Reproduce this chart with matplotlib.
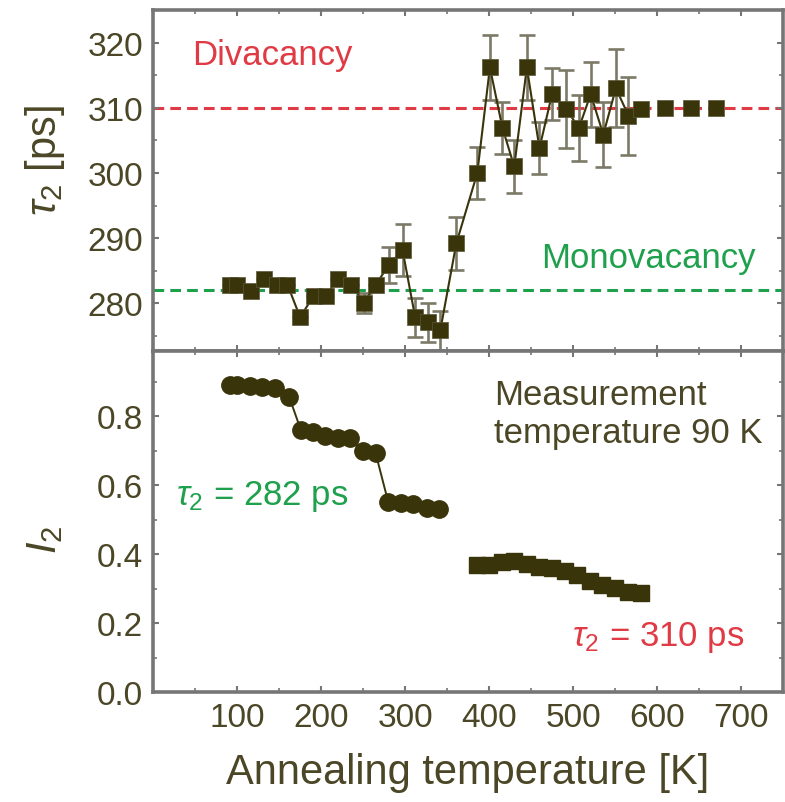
import numpy as np
import matplotlib
matplotlib.use("Agg")
import matplotlib.pyplot as plt
from matplotlib.ticker import MultipleLocator, FixedLocator, FormatStrFormatter

plt.rcParams["font.family"] = ["Liberation Sans", "DejaVu Sans"]
plt.rcParams["mathtext.fontset"] = "custom"
plt.rcParams["mathtext.it"] = "Liberation Sans:italic"
plt.rcParams["mathtext.rm"] = "Liberation Sans"

# positron lifetime tau2 vs annealing temperature
temp_tau = [92, 100, 117, 132, 147, 160, 175, 191, 206, 220, 236, 251, 265,
            281, 297, 312, 327, 342, 361, 386, 401, 416, 430, 445, 460, 475,
            492, 507, 521, 536, 551, 566, 581]
tau2 = [282.9, 282.9, 281.9, 283.8, 282.9, 282.9, 277.9, 281.1, 281.1, 283.8,
        282.9, 280.1, 282.9, 285.9, 288.2, 277.9, 277.1, 275.9, 289.2, 300.0,
        316.2, 306.9, 301.0, 316.2, 303.8, 312.1, 309.8, 306.9, 312.1, 305.9,
        313.0, 308.8, 309.8]
tau2_err = [0, 0, 0, 0, 0, 0, 0, 0, 0, 0, 0, 1.5, 0, 2.8, 4.0, 3.0, 3.0, 3.0,
            4.0, 4.0, 5.0, 4.0, 4.0, 5.0, 4.0, 4.0, 6.0, 5.0, 5.0, 5.0, 6.0,
            6.0, 0]
# fixed values
temp_fix = [610, 640, 670]
tau2_fix = [310, 310, 310]

# intensity I2
temp_i1 = [92, 100, 115, 130, 145, 162, 176, 190, 205, 220, 234, 250, 265,
           280, 295, 310, 326, 341]
i2_a = [0.89, 0.89, 0.888, 0.885, 0.882, 0.857, 0.760, 0.755, 0.742, 0.738,
        0.737, 0.700, 0.693, 0.551, 0.549, 0.545, 0.533, 0.532]
temp_i2 = [386, 400, 415, 430, 445, 460, 475, 490, 505, 520, 535, 550, 565, 581]
i2_b = [0.368, 0.370, 0.378, 0.379, 0.372, 0.362, 0.360, 0.352, 0.340, 0.322,
        0.312, 0.303, 0.290, 0.287]

tau_mono = 282
tau_di = 310

dark = "#3a340a"
txt = "#4a4626"
red = "#e03a44"
green = "#1fa04c"
spine = "#767676"

fig = plt.figure(figsize=(7.85, 8.03), dpi=100)
ax1 = fig.add_axes([0.195, 0.5616, 0.8025, 0.4247])
ax2 = fig.add_axes([0.195, 0.137, 0.8025, 0.4247])

# top panel
ax1.axhline(tau_di, color=red, ls=(0, (3.5, 2)), lw=2.2, zorder=1)
ax1.axhline(tau_mono, color=green, ls=(0, (3.5, 2)), lw=2.2, zorder=1)
ax1.errorbar(temp_tau, tau2, yerr=tau2_err, fmt="none", ecolor="#7c7966",
             elinewidth=1.9, capsize=5.5, capthick=1.9, zorder=2)
ax1.plot(temp_tau, tau2, "-", color=dark, lw=1.5, zorder=3)
ax1.plot(temp_tau, tau2, "s", color=dark, ms=11, mec="#5a5636", mew=0.5, zorder=4)
ax1.plot(temp_fix, tau2_fix, "s", color=dark, ms=11, mec="#5a5636", mew=0.5, zorder=4)

ax1.set_xlim(0, 750)
ax1.set_ylim(272.7, 325)
ax1.yaxis.set_major_locator(FixedLocator([280, 290, 300, 310, 320]))
ax1.yaxis.set_minor_locator(MultipleLocator(5))
ax1.xaxis.set_major_locator(MultipleLocator(100))
ax1.xaxis.set_minor_locator(MultipleLocator(50))
ax1.tick_params(labelbottom=False)

ax1.text(46, 318.1, "Divacancy", color=red, fontsize=25, va="center", ha="left")
ax1.text(462, 287.0, "Monovacancy", color=green, fontsize=25, va="center", ha="left")

# bottom panel
ax2.plot(temp_i1, i2_a, "-o", color=dark, lw=1.4, ms=12.5, mec=dark, zorder=3)
ax2.plot(temp_i2, i2_b, "-s", color=dark, lw=1.4, ms=12, mec=dark, zorder=3)
ax2.set_xlim(0, 750)
ax2.set_ylim(0, 0.99)
ax2.yaxis.set_major_locator(FixedLocator([0.0, 0.2, 0.4, 0.6, 0.8]))
ax2.yaxis.set_minor_locator(MultipleLocator(0.1))
ax2.xaxis.set_major_locator(FixedLocator([100, 200, 300, 400, 500, 600, 700]))
ax2.xaxis.set_minor_locator(MultipleLocator(50))
ax2.yaxis.set_major_formatter(FormatStrFormatter("%.1f"))

ax2.text(406, 0.808, "Measurement\ntemperature 90 K", color=txt, fontsize=25,
         va="center", ha="left", linespacing=1.2)
ax2.text(27, 0.570, r"$\mathit{\tau}_{2}$ = 282 ps", color=green, fontsize=25,
         va="center", ha="left")
ax2.text(499, 0.160, r"$\mathit{\tau}_{2}$ = 310 ps", color=red, fontsize=25,
         va="center", ha="left")

for ax in (ax1, ax2):
    for s in ax.spines.values():
        s.set_color(spine)
        s.set_linewidth(2.6)
    ax.tick_params(which="both", direction="in", top=True, right=True,
                   color=spine, labelcolor=txt, labelsize=24, pad=7)
    ax.tick_params(which="major", length=4, width=1.5)
    ax.tick_params(which="minor", length=3, width=1.2)

fig.text(0.057, 0.80, r"$\mathit{\tau}_{2}$ [ps]", rotation=90, color=txt,
         fontsize=30, ha="center", va="center")
fig.text(0.057, 0.3275, r"$\mathit{I}_{2}$", rotation=90, color=txt,
         fontsize=30, ha="center", va="center")
ax2.set_xlabel("Annealing temperature [K]", color=txt, fontsize=30, labelpad=14)

fig.savefig("out.png", dpi=100)
